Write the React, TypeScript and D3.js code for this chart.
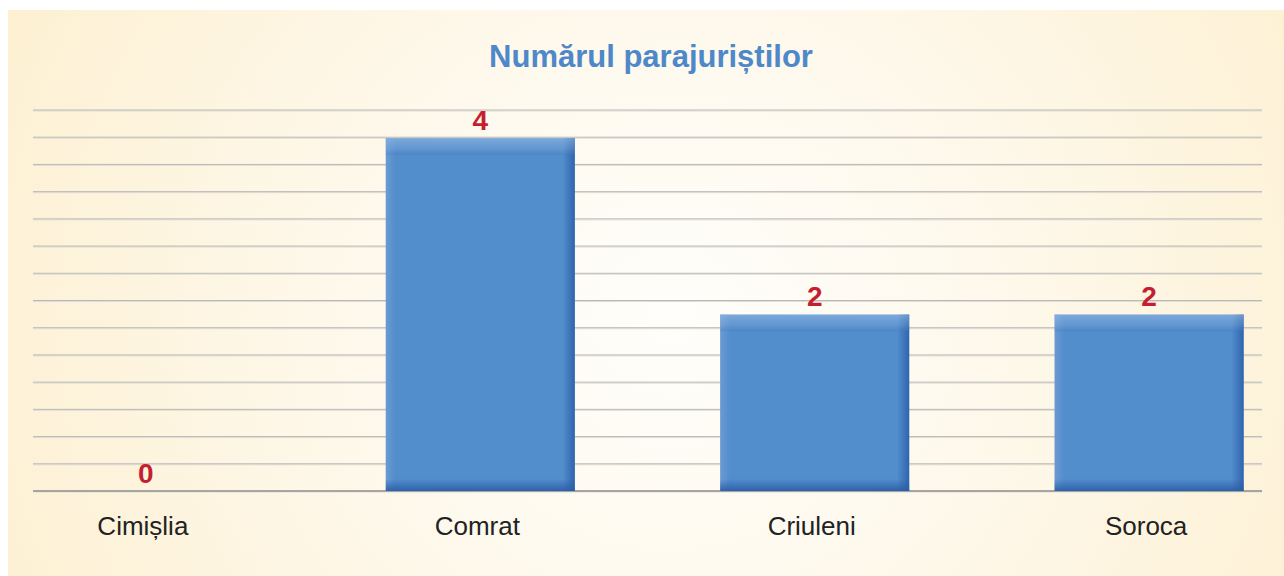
import React from 'react'
import { scaleBand, scaleLinear, range } from 'd3'

// chart data
const categories = ['Cimișlia', 'Comrat', 'Criuleni', 'Soroca']
const values = [0, 4, 2, 2]
const title = 'Numărul parajuriștilor'
const yMax = 4.32
const gridCount = 14

const W = 1284
const H = 576
const margin = { top: 110, right: 22, bottom: 85, left: 33 }

export default function App() {
  const x = scaleBand<string>()
    .domain(categories)
    .range([margin.left, W - margin.right])
    .paddingInner(0.435)
    .paddingOuter(0.055)

  const y = scaleLinear()
    .domain([0, yMax])
    .range([H - margin.bottom, margin.top])

  // decorative gridlines, evenly spread over the value range
  const grid = range(gridCount + 1).map(i => (i * yMax) / gridCount)
  const bw = x.bandwidth()

  return (
    <svg
      width={W}
      height={H}
      style={{ position: 'absolute', left: 0, top: 0, fontFamily: 'Arial, "Liberation Sans", sans-serif' }}
    >
      <defs>
        <radialGradient id="bg" cx="0.52" cy="0.55" r="0.62" gradientTransform="translate(0.52 0.55) scale(1 2.2) translate(-0.52 -0.55)">
          <stop offset="0" stopColor="#fffefb" />
          <stop offset="0.45" stopColor="#fef8ea" />
          <stop offset="1" stopColor="#fdefcf" />
        </radialGradient>
        <linearGradient id="edgeTop" x1="0" y1="0" x2="0" y2="1">
          <stop offset="0" stopColor="#9fc0e6" stopOpacity={0.55} />
          <stop offset="0.6" stopColor="#8cb1df" stopOpacity={0.3} />
          <stop offset="1" stopColor="#3f75b8" stopOpacity={0.25} />
        </linearGradient>
        <linearGradient id="edgeBottom" x1="0" y1="0" x2="0" y2="1">
          <stop offset="0" stopColor="#2a5ca6" stopOpacity={0} />
          <stop offset="1" stopColor="#2a5ca6" stopOpacity={0.9} />
        </linearGradient>
        <linearGradient id="edgeRight" x1="0" y1="0" x2="1" y2="0">
          <stop offset="0" stopColor="#2c60aa" stopOpacity={0} />
          <stop offset="1" stopColor="#2c60aa" stopOpacity={0.9} />
        </linearGradient>
        <linearGradient id="edgeLeft" x1="0" y1="0" x2="1" y2="0">
          <stop offset="0" stopColor="#7ba4d6" stopOpacity={0.6} />
          <stop offset="1" stopColor="#7ba4d6" stopOpacity={0} />
        </linearGradient>
      </defs>

      <rect x={8} y={10} width={W - 8} height={H - 10} fill="url(#bg)" />

      <text
        x={651}
        y={67}
        textAnchor="middle"
        fontSize={31}
        fontWeight="bold"
        fill="#4f88c8"
      >
        {title}
      </text>

      {grid.map((g, i) => (
        <g key={i}>
          <line
            x1={margin.left}
            x2={W - margin.right}
            y1={y(g) + 1}
            y2={y(g) + 1}
            stroke="#e2ddd2"
            strokeWidth={1}
          />
          <line
            x1={margin.left}
            x2={W - margin.right}
            y1={y(g)}
            y2={y(g)}
            stroke={i === 0 ? '#8c8c8c' : '#b9b9b9'}
            strokeWidth={i === 0 ? 1.5 : 1}
          />
        </g>
      ))}

      {categories.map((c, i) => {
        const x0 = x(c)!
        const top = y(values[i])
        const h = y(0) - top
        if (h <= 0) return null
        const e = Math.min(12, h / 3)
        return (
          <g key={c}>
            <rect x={x0} y={top} width={bw} height={h} fill="#528dcc" />
            <rect x={x0} y={top} width={e * 0.8} height={h} fill="url(#edgeLeft)" />
            <rect x={x0 + bw - e} y={top} width={e} height={h} fill="url(#edgeRight)" />
            <rect x={x0} y={top} width={bw} height={e * 1.4} fill="url(#edgeTop)" />
            <rect x={x0} y={top + h - e} width={bw} height={e} fill="url(#edgeBottom)" />
          </g>
        )
      })}

      {categories.map((c, i) => (
        <text
          key={c}
          x={x(c)! + bw / 2}
          y={y(values[i]) - 8.5}
          textAnchor="middle"
          fontSize={28}
          fontWeight="bold"
          fill="#c41f30"
        >
          {values[i]}
        </text>
      ))}

      {categories.map(c => (
        <text
          key={c}
          x={x(c)! + bw / 2 - 3}
          y={535}
          textAnchor="middle"
          fontSize={26}
          fill="#222222"
        >
          {c}
        </text>
      ))}
    </svg>
  )
}
